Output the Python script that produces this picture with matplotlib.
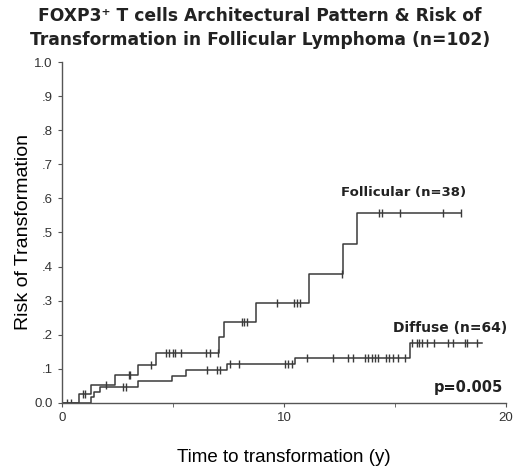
import numpy as np
import matplotlib
matplotlib.use("Agg")
import matplotlib.pyplot as plt

# Follicular pattern (n=38): step times and cumulative risk
foll_times = [0, 0.77, 1.3, 2.4, 3.44, 4.26, 7.09, 7.31, 8.74, 11.14, 12.64, 13.3]
foll_risk = [0, 0.026, 0.053, 0.082, 0.111, 0.147, 0.194, 0.238, 0.294, 0.378, 0.466, 0.556]
foll_end = 17.96
foll_censor = [0.93, 1.04, 1.98, 3.03, 3.08, 4.0, 4.71, 4.83, 4.99, 5.09, 5.35,
               6.49, 6.67, 7.04, 8.09, 8.21, 8.33, 9.71, 10.46, 10.57, 10.72,
               12.6, 14.29, 14.4, 15.23, 17.15, 17.96]

# Diffuse pattern (n=64)
diff_times = [0, 1.31, 1.46, 1.7, 3.41, 4.98, 5.59, 7.42, 10.5, 15.68]
diff_risk = [0, 0.016, 0.031, 0.047, 0.064, 0.080, 0.097, 0.113, 0.131, 0.177]
diff_end = 18.9
diff_censor = [0.25, 0.4, 2.76, 2.88, 6.55, 7.0, 7.12, 7.57, 7.99, 10.05, 10.2,
               10.35, 11.05, 12.19, 12.9, 13.09, 13.65, 13.8, 13.95, 14.1, 14.25,
               14.59, 14.74, 14.9, 15.15, 15.45, 15.75, 15.98, 16.1, 16.2, 16.43,
               16.76, 17.4, 17.6, 18.15, 18.26, 18.71]

y_ticks = [0.0, 0.1, 0.2, 0.3, 0.4, 0.5, 0.6, 0.7, 0.8, 0.9, 1.0]
y_labels = ["0.0", ".1", ".2", ".3", ".4", ".5", ".6", ".7", ".8", ".9", "1.0"]

line_col = "#3a3a3a"


def risk_at(times, risk, t):
    idx = np.searchsorted(times, t, side="right") - 1
    return np.array(risk)[idx]


fig = plt.figure(figsize=(5.2, 4.74), dpi=100)
ax = fig.add_axes([0.119, 0.150, 0.854, 0.719])

for times, risk, end, cens in [(foll_times, foll_risk, foll_end, foll_censor),
                               (diff_times, diff_risk, diff_end, diff_censor)]:
    xs = list(times) + [end]
    ys = list(risk) + [risk[-1]]
    ax.step(xs, ys, where="post", color=line_col, lw=1.1)
    ax.plot(cens, risk_at(times, risk, cens), linestyle="none", marker="|",
            color=line_col, markersize=6, markeredgewidth=1.0)

ax.set_xlim(0, 20)
ax.set_ylim(0, 1.0)
ax.set_xticks([0, 10, 20])
ax.set_xticks([5, 15], minor=True)
ax.set_yticks(y_ticks)
ax.set_yticklabels(y_labels)
ax.spines["top"].set_visible(False)
ax.spines["right"].set_visible(False)
for s in ["left", "bottom"]:
    ax.spines[s].set_color("#555555")
    ax.spines[s].set_linewidth(1.0)
ax.tick_params(axis="both", which="both", direction="out", length=3,
               color="#555555", labelsize=9.5, labelcolor="#333333",
               labelfontfamily="Liberation Sans")
ax.tick_params(axis="x", which="minor", length=3)

ax.set_xlabel("Time to transformation (y)", fontsize=13.5,
              family="Liberation Sans", labelpad=18)
ax.set_ylabel("Risk of Transformation", fontsize=14,
              family="Liberation Sans", labelpad=2)

fig.text(0.5, 0.985, "FOXP3\u207a T cells Architectural Pattern & Risk of\n"
         "Transformation in Follicular Lymphoma (n=102)",
         ha="center", va="top", fontsize=12.3, fontweight="bold",
         family="DejaVu Sans", color="#222222", linespacing=1.4)

ax.text(15.4, 0.617, "Follicular (n=38)", ha="center", va="center",
        fontsize=9.5, fontweight="bold", color="#222222")
ax.text(17.5, 0.219, "Diffuse (n=64)", ha="center", va="center",
        fontsize=10, fontweight="bold", color="#222222")
ax.text(18.3, 0.045, "p=0.005", ha="center", va="center",
        fontsize=10.5, fontweight="bold", color="#222222")

fig.savefig("out.png", dpi=100)
